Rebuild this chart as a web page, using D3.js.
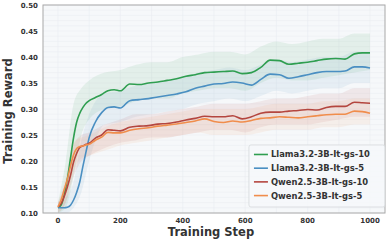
<!DOCTYPE html>
<html>
<head>
<meta charset="utf-8">
<script src="https://cdn.jsdelivr.net/npm/d3@7"></script>
<style>
  body { margin: 0; background: #fff; }
  text { font-family: "DejaVu Sans", sans-serif; font-weight: bold; fill: #333; }
</style>
</head>
<body>
<svg id="chart" width="389" height="245"></svg>
<script>
// smoothed curves
const steps = [0,10,20,30,40,50,60,70,80,90,100,120,140,160,180,200,230,260,290,320,350,380,410,440,470,500,530,560,590,620,650,680,710,740,770,800,830,860,890,920,950,975,1000];
const llama10 = [0.110,0.115,0.135,0.165,0.205,0.245,0.275,0.292,0.303,0.311,0.316,0.322,0.328,0.335,0.337,0.335,0.348,0.347,0.350,0.352,0.355,0.358,0.363,0.366,0.370,0.371,0.372,0.373,0.368,0.370,0.380,0.394,0.393,0.386,0.388,0.390,0.393,0.396,0.397,0.396,0.406,0.408,0.408];
const llama5 = [0.111,0.110,0.110,0.111,0.115,0.125,0.140,0.160,0.190,0.218,0.245,0.275,0.293,0.303,0.304,0.302,0.316,0.318,0.320,0.323,0.326,0.329,0.333,0.340,0.344,0.348,0.349,0.352,0.350,0.346,0.357,0.367,0.366,0.359,0.362,0.366,0.370,0.372,0.372,0.373,0.381,0.381,0.379];
const qwen10 = [0.112,0.118,0.132,0.150,0.172,0.198,0.215,0.226,0.229,0.232,0.234,0.244,0.250,0.260,0.259,0.258,0.265,0.267,0.268,0.271,0.272,0.275,0.279,0.282,0.286,0.285,0.285,0.287,0.281,0.285,0.292,0.294,0.294,0.296,0.297,0.299,0.298,0.303,0.305,0.305,0.313,0.312,0.311];
const qwen5 = [0.112,0.125,0.145,0.165,0.190,0.212,0.224,0.228,0.229,0.231,0.232,0.240,0.246,0.255,0.254,0.254,0.259,0.262,0.264,0.267,0.269,0.271,0.274,0.277,0.281,0.276,0.274,0.277,0.275,0.278,0.282,0.283,0.285,0.284,0.283,0.285,0.287,0.289,0.290,0.290,0.296,0.295,0.292];

// spread of the raw (unsmoothed) reward, read as an envelope
const bandSteps = [0,25,50,75,100,150,200,250,300,350,400,450,500,550,600,650,700,750,800,850,900,950,1000];
const llama10Hi = [0.12,0.20,0.31,0.34,0.355,0.37,0.375,0.385,0.39,0.39,0.40,0.405,0.41,0.41,0.405,0.42,0.43,0.425,0.43,0.435,0.435,0.445,0.445];
const llama10Lo = [0.10,0.11,0.17,0.25,0.28,0.30,0.305,0.315,0.32,0.32,0.33,0.335,0.34,0.34,0.335,0.35,0.36,0.355,0.355,0.36,0.365,0.37,0.375];
const llama5Hi = [0.12,0.13,0.16,0.24,0.29,0.33,0.335,0.345,0.35,0.355,0.36,0.37,0.375,0.38,0.375,0.385,0.395,0.39,0.395,0.40,0.40,0.41,0.41];
const llama5Lo = [0.10,0.10,0.11,0.14,0.20,0.27,0.275,0.285,0.29,0.295,0.30,0.31,0.315,0.32,0.315,0.325,0.335,0.33,0.335,0.34,0.34,0.35,0.35];
const qwen10Hi = [0.12,0.16,0.23,0.25,0.255,0.27,0.28,0.29,0.29,0.295,0.30,0.305,0.31,0.31,0.31,0.315,0.32,0.32,0.325,0.33,0.33,0.34,0.34];
const qwen10Lo = [0.10,0.12,0.17,0.20,0.21,0.225,0.235,0.24,0.245,0.245,0.25,0.255,0.26,0.26,0.255,0.265,0.27,0.27,0.27,0.275,0.28,0.285,0.285];
const qwen5Hi = [0.12,0.17,0.235,0.245,0.25,0.265,0.275,0.28,0.285,0.29,0.295,0.30,0.30,0.30,0.30,0.305,0.31,0.31,0.31,0.315,0.315,0.32,0.32];
const qwen5Lo = [0.10,0.12,0.18,0.205,0.21,0.22,0.23,0.235,0.24,0.245,0.25,0.255,0.25,0.25,0.25,0.255,0.26,0.26,0.26,0.265,0.265,0.27,0.27];

const seriesNames = ["Llama3.2-3B-It-gs-10", "Llama3.2-3B-It-gs-5", "Qwen2.5-3B-It-gs-10", "Qwen2.5-3B-It-gs-5"];
const xTicks = [0, 200, 400, 600, 800, 1000];
const yTicks = [0.10, 0.15, 0.20, 0.25, 0.30, 0.35, 0.40, 0.45, 0.50];

const colors = ["#2f9e50", "#4a8fc2", "#b4463f", "#f08d4c"];
const series = [
  {name: seriesNames[0], vals: llama10, hi: llama10Hi, lo: llama10Lo, color: colors[0]},
  {name: seriesNames[1], vals: llama5, hi: llama5Hi, lo: llama5Lo, color: colors[1]},
  {name: seriesNames[2], vals: qwen10, hi: qwen10Hi, lo: qwen10Lo, color: colors[2]},
  {name: seriesNames[3], vals: qwen5, hi: qwen5Hi, lo: qwen5Lo, color: colors[3]}
];

var margin = {top: 5, right: 4, bottom: 32, left: 43};
var width = 389 - margin.left - margin.right;
var height = 245 - margin.top - margin.bottom;

var x = d3.scaleLinear().domain([-48, 1048]).range([0, width]);
var y = d3.scaleLinear().domain([0.1, 0.5]).range([height, 0]);

let svg = d3.select("#chart");
let g = svg.append("g").attr("transform", "translate(" + margin.left + "," + margin.top + ")");

// plot background
g.append("rect").attr("width", width).attr("height", height).attr("fill", "#f6f8fa");

// grid (major + minor)
g.append("g").selectAll("line")
  .data(d3.range(0.1, 0.5001, 0.01))
  .enter().append("line")
  .attr("x1", 0).attr("x2", width)
  .attr("y1", d => y(d)).attr("y2", d => y(d))
  .attr("stroke", "#e9edf1").attr("stroke-width", 0.5);
g.append("g").selectAll("line")
  .data(d3.range(0, 1001, 100))
  .enter().append("line")
  .attr("y1", 0).attr("y2", height)
  .attr("x1", d => x(d)).attr("x2", d => x(d))
  .attr("stroke", "#e9edf1").attr("stroke-width", 0.6);

let plot = g.append("g");

// raw envelopes
series.forEach(function(s) {
  let area = d3.area()
    .x((d, i) => x(bandSteps[i]))
    .y0((d, i) => y(s.lo[i]))
    .y1((d, i) => y(s.hi[i]))
    .curve(d3.curveMonotoneX);
  plot.append("path")
    .datum(s.hi)
    .attr("d", area)
    .attr("fill", s.color)
    .attr("opacity", 0.09);
});

// smoothed lines
series.forEach(function(s) {
  let line = d3.line()
    .x((d, i) => x(steps[i]))
    .y(d => y(d))
    .curve(d3.curveMonotoneX);
  plot.append("path")
    .datum(s.vals)
    .attr("d", line)
    .attr("fill", "none")
    .attr("stroke", s.color)
    .attr("stroke-width", 1.6);
});

// frame
g.append("rect").attr("width", width).attr("height", height)
  .attr("fill", "none").attr("stroke", "#a8a8a8").attr("stroke-width", 1);

// ticks
g.append("g").selectAll("text")
  .data(xTicks)
  .enter().append("text")
  .attr("x", d => x(d)).attr("y", height + 9.5)
  .attr("text-anchor", "middle")
  .attr("font-size", 7)
  .text(d => d);
g.append("g").selectAll("text")
  .data(yTicks)
  .enter().append("text")
  .attr("x", -5).attr("y", d => y(d) + 2.5)
  .attr("text-anchor", "end")
  .attr("font-size", 7)
  .text(d => d.toFixed(2));

// axis titles
g.append("text")
  .attr("x", width / 2 - 3).attr("y", height + 23)
  .attr("text-anchor", "middle")
  .attr("font-size", 11.5)
  .text("Training Step");
g.append("text")
  .attr("transform", "translate(" + (-31) + "," + (height / 2 + 2) + ") rotate(-90)")
  .attr("text-anchor", "middle")
  .attr("font-size", 11.5)
  .text("Training Reward");

// legend
let lg = g.append("g").attr("transform", "translate(" + (x(612)) + "," + (y(0.2308)) + ")");
lg.append("rect")
  .attr("width", 136).attr("height", 62)
  .attr("rx", 2)
  .attr("fill", "#f6f8fa").attr("fill-opacity", 0.85)
  .attr("stroke", "#d6d9dc").attr("stroke-width", 0.8);
series.forEach(function(s, i) {
  let yy = 9.5 + i * 13.7;
  lg.append("line")
    .attr("x1", 5).attr("x2", 19)
    .attr("y1", yy).attr("y2", yy)
    .attr("stroke", s.color).attr("stroke-width", 1.6);
  lg.append("text")
    .attr("x", 22).attr("y", yy + 3)
    .attr("font-size", 8.4)
    .text(s.name);
});
</script>
</body>
</html>
